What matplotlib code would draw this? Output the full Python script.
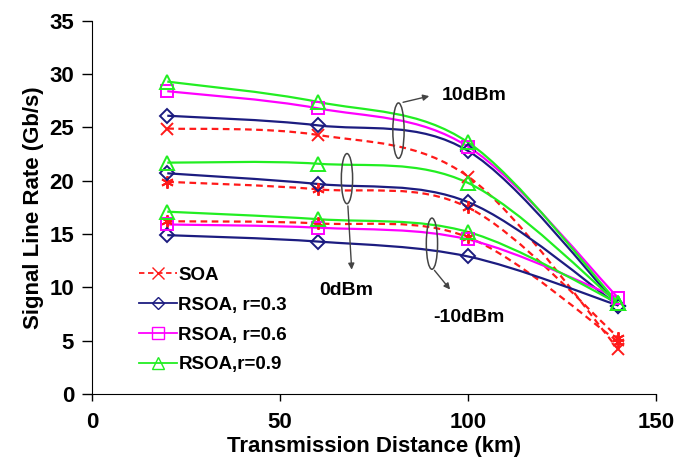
import matplotlib

matplotlib.use("Agg")
import matplotlib.pyplot as plt
import numpy as np
from matplotlib.path import Path
from matplotlib.patches import PathPatch, Ellipse
from matplotlib.lines import Line2D

# distance (km)
distance = [20, 60, 100, 140]

# signal line rate (Gb/s)
soa_10 = [24.9, 24.3, 20.4, 4.2]
soa_0 = [19.9, 19.2, 17.5, 5.3]
soa_m10 = [16.2, 16.0, 14.7, 4.9]

r03_10 = [26.1, 25.2, 22.8, 8.3]
r03_0 = [20.7, 19.7, 18.0, 8.3]
r03_m10 = [14.9, 14.3, 12.9, 8.3]

r06_10 = [28.4, 26.8, 23.2, 9.0]
r06_m10 = [15.9, 15.6, 14.5, 9.0]

r09_10 = [29.3, 27.4, 23.6, 8.5]
r09_0 = [21.7, 21.6, 19.8, 8.5]
r09_m10 = [17.1, 16.4, 15.2, 8.5]

C_SOA = "#ff1a1a"
C_R03 = "#1c1c80"
C_R06 = "#ff00ff"
C_R09 = "#22ee22"

plt.rcParams.update({
    "font.family": ["Liberation Sans", "DejaVu Sans"],
    "font.weight": "bold",
})


def smooth_path(xs, ys):
    # Excel-style smoothed line: cubic Bezier through the points
    pts = np.column_stack([xs, ys]).astype(float)
    ext = np.vstack([pts[0], pts, pts[-1]])
    verts = [pts[0]]
    codes = [Path.MOVETO]
    for i in range(len(pts) - 1):
        p0, p1, p2, p3 = ext[i], ext[i + 1], ext[i + 2], ext[i + 3]
        verts += [p1 + (p2 - p0) / 6, p2 - (p3 - p1) / 6, p2]
        codes += [Path.CURVE4] * 3
    return Path(verts, codes)


def draw(ax, ys, color, marker, ls="-", ms=9):
    ax.add_patch(PathPatch(smooth_path(distance, ys), fill=False, edgecolor=color,
                           linewidth=1.6, linestyle=ls, zorder=2))
    ax.plot(distance, ys, linestyle="none", marker=marker, markersize=ms,
            markerfacecolor="none", markeredgecolor=color, markeredgewidth=1.4, zorder=3)


fig = plt.figure(figsize=(6.77, 4.63), dpi=100)
ax = fig.add_axes([0.136, 0.149, 0.833, 0.806])

star = (6, 2, 0)
for ys, mk in [(soa_10, "x"), (soa_0, star), (soa_m10, star)]:
    draw(ax, ys, C_SOA, mk, ls=(0, (3, 2)), ms=9)
for ys in [r03_10, r03_0, r03_m10]:
    draw(ax, ys, C_R03, "D", ms=7.5)
for ys in [r06_10, r06_m10]:
    draw(ax, ys, C_R06, "s", ms=9)
for ys in [r09_10, r09_0, r09_m10]:
    draw(ax, ys, C_R09, "^", ms=10)

# power group annotations
gray = "#444444"
for (cx, cy, h) in [(81.5, 24.7, 5.2), (67.8, 20.2, 4.7), (90.4, 14.1, 4.8)]:
    ax.add_patch(Ellipse((cx, cy), 3.0, h, fill=False, edgecolor=gray, linewidth=1.1, zorder=4))
arrow = dict(arrowstyle="-|>", color=gray, linewidth=1.0, mutation_scale=9)
ax.annotate("", xy=(90.4, 28.0), xytext=(82.0, 27.3), arrowprops=arrow)
ax.annotate("", xy=(69.1, 11.4), xytext=(68.0, 17.9), arrowprops=arrow)
ax.annotate("", xy=(95.7, 9.6), xytext=(90.6, 11.8), arrowprops=arrow)
ax.text(93.0, 28.0, "10dBm", fontsize=14, fontweight="bold", va="center", ha="left")
ax.text(60.4, 9.7, "0dBm", fontsize=14, fontweight="bold", va="center", ha="left")
ax.text(90.7, 7.2, "-10dBm", fontsize=14, fontweight="bold", va="center", ha="left")

handles = [
    Line2D([], [], color=C_SOA, linestyle=(0, (3, 2)), linewidth=1.3, marker="x",
           markersize=8, markeredgewidth=1.0),
    Line2D([], [], color=C_R03, linewidth=1.3, marker="D", markersize=6,
           markerfacecolor="none", markeredgewidth=1.0),
    Line2D([], [], color=C_R06, linewidth=1.3, marker="s", markersize=8,
           markerfacecolor="none", markeredgewidth=1.0),
    Line2D([], [], color=C_R09, linewidth=1.3, marker="^", markersize=8,
           markerfacecolor="none", markeredgewidth=1.0),
]
labels = ["SOA", "RSOA, r=0.3", "RSOA, r=0.6", "RSOA,r=0.9"]
ax.legend(handles, labels, loc="lower left", bbox_to_anchor=(0.07, 0.035), frameon=False,
          fontsize=13.5, handlelength=2.0, handletextpad=0.1, labelspacing=0.68,
          borderaxespad=0)

ax.set_xlim(0, 150)
ax.set_ylim(0, 35)
ax.set_xticks([0, 50, 100, 150])
ax.set_yticks(range(0, 36, 5))
ax.spines["top"].set_visible(False)
ax.spines["right"].set_visible(False)
ax.tick_params(axis="both", direction="out", width=1, labelsize=16)
ax.tick_params(axis="y", length=7, pad=6)
ax.tick_params(axis="x", length=5, pad=8)
for lab in ax.get_xticklabels() + ax.get_yticklabels():
    lab.set_fontweight("bold")
ax.set_xlabel("Transmission Distance (km)", fontsize=16, fontweight="bold", labelpad=2)
ax.set_ylabel("Signal Line Rate (Gb/s)", fontsize=16, fontweight="bold", labelpad=4)

fig.savefig("out.png", dpi=100)
